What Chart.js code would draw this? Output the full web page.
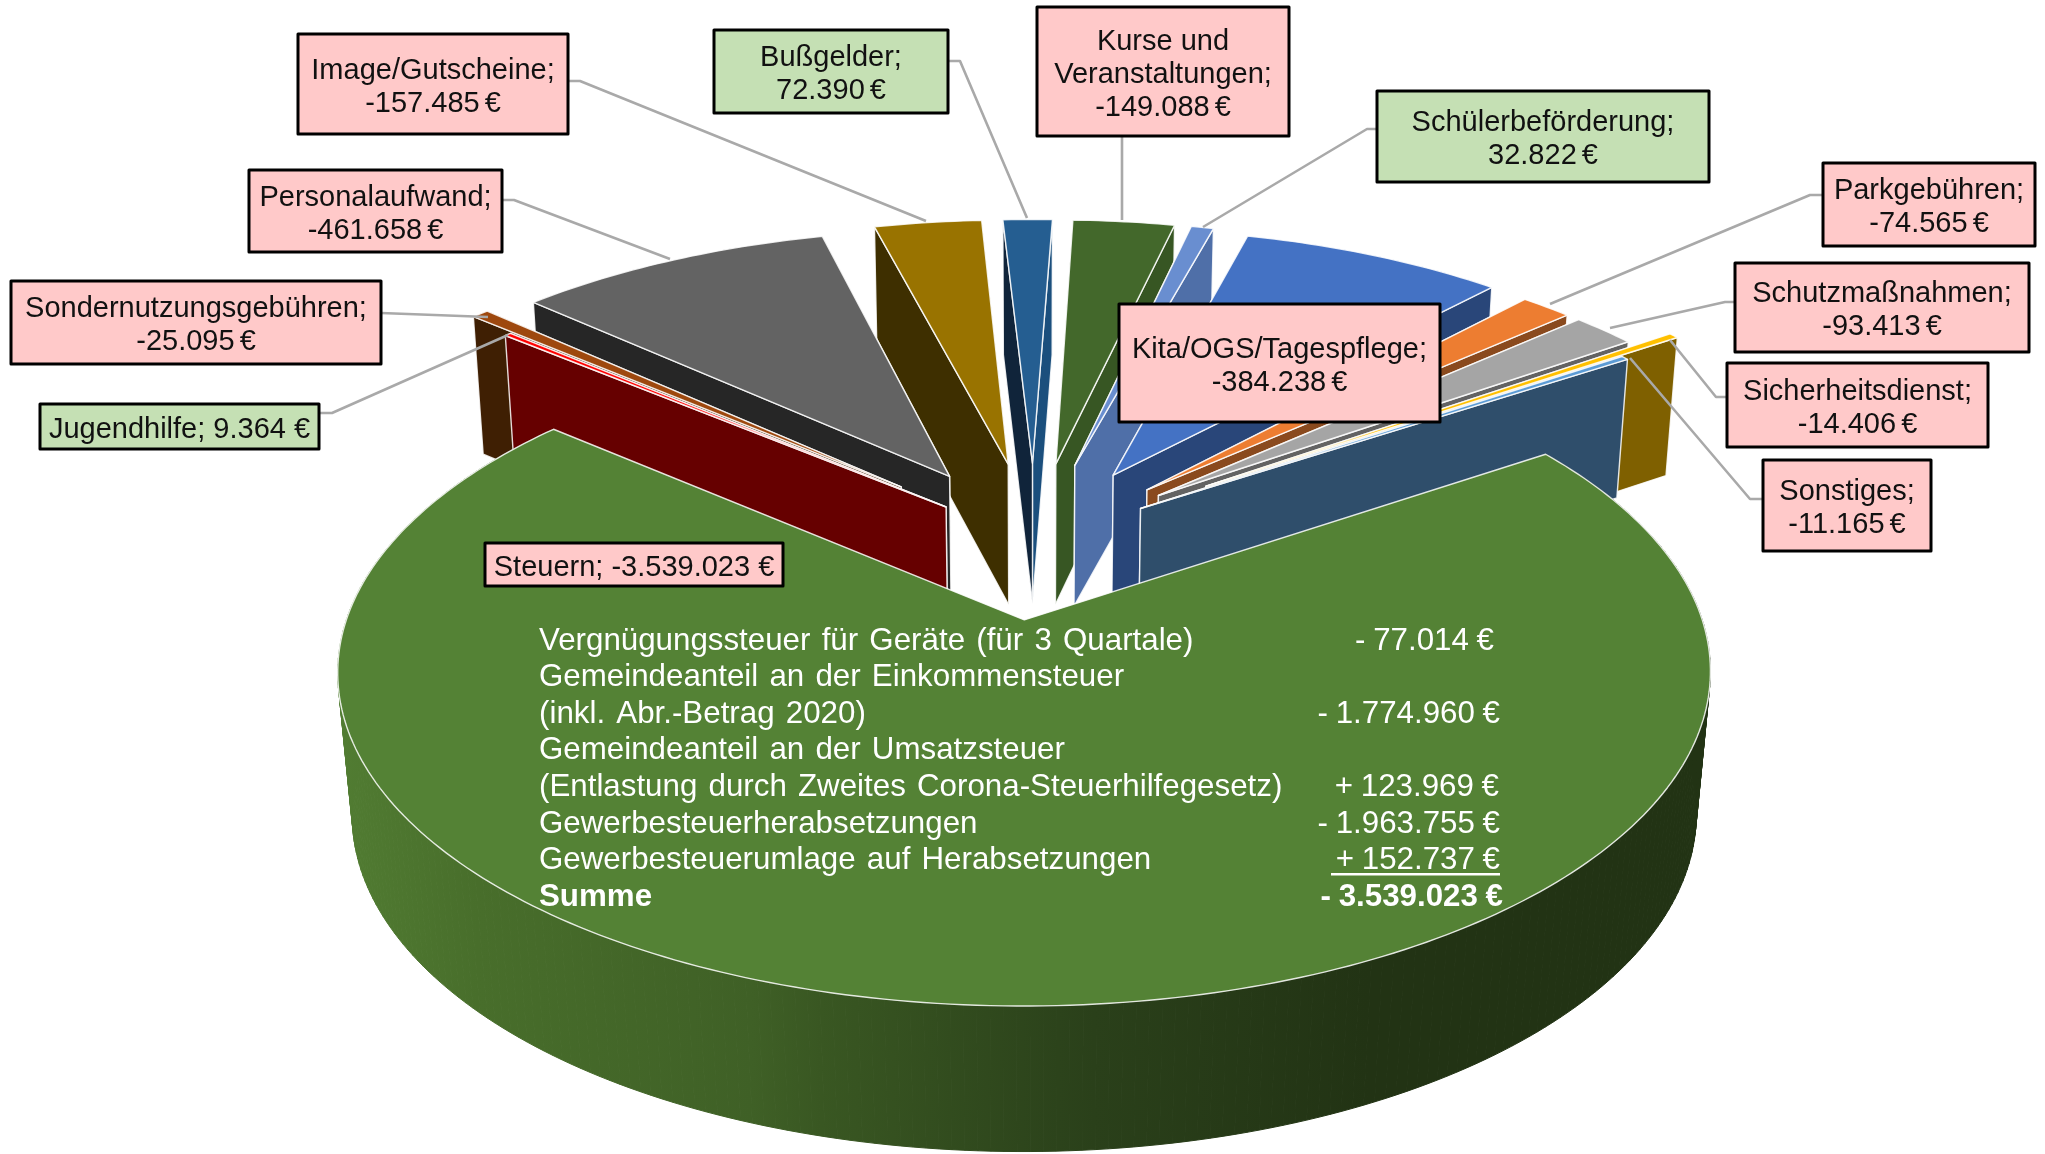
<!DOCTYPE html>
<html><head><meta charset="utf-8">
<style>html,body{margin:0;padding:0;background:#fff}canvas{display:block;filter:blur(0.5px)}</style>
<script src="https://cdn.jsdelivr.net/npm/chart.js@4"></script>
</head><body><canvas id="c" width="2045" height="1154"></canvas>
<script>
const categories=["Steuern","Jugendhilfe","Sondernutzungsgebühren","Personalaufwand","Image/Gutscheine","Bußgelder","Kurse und Veranstaltungen","Schülerbeförderung","Kita/OGS/Tagespflege","Parkgebühren","Schutzmaßnahmen","Sicherheitsdienst","Sonstiges"];
const values=[-3539023,9364,-25095,-461658,-157485,72390,-149088,32822,-384238,-74565,-93413,-14406,-11165];
const detailRows=[["Vergnügungssteuer für Geräte (für 3 Quartale)","- 77.014 €"],["Gemeindeanteil an der Einkommensteuer",""],["(inkl. Abr.-Betrag 2020)","- 1.774.960 €"],["Gemeindeanteil an der Umsatzsteuer",""],["(Entlastung durch Zweites Corona-Steuerhilfegesetz)","+ 123.969 €"],["Gewerbesteuerherabsetzungen","- 1.963.755 €"],["Gewerbesteuerumlage auf Herabsetzungen","+ 152.737 €"],["Summe","- 3.539.023 €"]];
const topColors=["#548235","#ff0000","#9e480e","#636363","#997300","#255e91","#43682b","#698ed0","#4472c4","#ed7d31","#a5a5a5","#ffc000","#5b9bd5"];
const startWall=["#375623","#660000","#3f1f03","#262626","#3e2f00","#10243a","#2a401a","#3f5a8a","#264478","#8a4a1e","#636363","#7f6000","#2f4e6b"];
const endWall=["#375623","#660000","#3f1f03","#262626","#3e2f00","#1b4f7d","#375623","#4f6fa8","#294679","#8a4a1e","#636363","#7f6000","#2f4e6b"];
const explode=[0.25,0.18,0.28,0.26,0.27,0.27,0.27,0.27,0.26,0.25,0.25,0.33,0.2];
const boxes=[[485,543,783,586],[40,404,319,449],[11,281,381,364],[249,170,502,252],[298,34,568,134],[714,30,948,113],[1037,7,1289,136],[1377,91,1709,182],[1119,304,1440,422],[1823,163,2035,246],[1735,263,2029,352],[1727,363,1988,447],[1763,460,1931,551]];
const leaders=[null,[[319,413],[332,413],[508,335]],[[381,313],[488,317]],[[502,200],[514,200],[670,259]],[[568,81],[580,81],[926,221]],[[948,61],[960,61],[1027,218]],[[1122,136],[1122,220]],[[1377,129],[1367,129],[1203,227]],null,[[1823,195],[1810,195],[1550,304]],[[1735,302],[1725,302],[1610,328]],[[1727,397],[1716,397],[1670,340]],[[1763,499],[1750,499],[1630,358]]];
const lineBreaks={6:["Kurse und","Veranstaltungen;"]};
const oneLine=[0,1];

const P={cx:1034,cy:541.6,A:652.6,B:302,C:142,k:0.15,kz:0.075,m:0.02};
function proj(u,v,z){const w=1-P.k*v+P.m*z;return [P.cx+P.A*u/w,P.cy+P.B*v/w+P.C*z/(1-P.kz*v)];}
function path(ctx,pts){ctx.beginPath();pts.forEach((p,i)=>i?ctx.lineTo(p[0],p[1]):ctx.moveTo(p[0],p[1]));}
function poly(ctx,pts,fill){path(ctx,pts);ctx.closePath();ctx.fillStyle=fill;ctx.fill();ctx.strokeStyle="rgba(255,255,255,.85)";ctx.lineWidth=1.4;ctx.lineJoin="round";ctx.stroke();}
function fmt(v){return v.toLocaleString("de-DE")+" €";}

const pie3d={id:"pie3d",
 beforeDatasetsDraw(chart){
  const ctx=chart.ctx,els=chart.getDatasetMeta(0).data;
  const order=els.map((e,i)=>i).sort((a,b)=>Math.sin((els[a].startAngle+els[a].endAngle)/2)-Math.sin((els[b].startAngle+els[b].endAngle)/2));
  order.forEach(i=>{
   const a0=els[i].startAngle,a1=els[i].endAngle,mid=(a0+a1)/2,e=explode[i];
   const du=Math.cos(mid)*e,dv=Math.sin(mid)*e,n=Math.max(2,Math.ceil((a1-a0)*60));
   const rim=[];for(let s=0;s<=n;s++){const t=a0+(a1-a0)*s/n;rim.push([du+Math.cos(t),dv+Math.sin(t)]);}
   const top=rim.map(r=>proj(r[0],r[1],0)),bot=rim.map(r=>proj(r[0],r[1],1));
   const at=proj(du,dv,0),ab=proj(du,dv,1);
   if(i===0){
    const g=ctx.createLinearGradient(341,0,1711,0);
    [[0,"#517c32"],[.1,"#486e2b"],[.3,"#3f6026"],[.35,"#395722"],[.55,"#2a401a"],[.75,"#223314"],[1,"#223314"]].forEach(s=>g.addColorStop(s[0],s[1]));
    ctx.fillStyle=g;ctx.strokeStyle=g;ctx.lineWidth=1;
    for(let s=0;s<n;s++){path(ctx,[top[s],top[s+1],bot[s+1],bot[s]]);ctx.closePath();ctx.fill();ctx.stroke();}
   }else{
    const sw=[at,top[0],bot[0],ab],ew=[at,top[n],bot[n],ab];
    if(top[0][1]>top[n][1]){poly(ctx,ew,endWall[i]);poly(ctx,sw,startWall[i]);}
    else{poly(ctx,sw,startWall[i]);poly(ctx,ew,endWall[i]);}
   }
   poly(ctx,[at].concat(top),topColors[i]);
  });
  return false;
 },
 afterDraw(chart){
  const ctx=chart.ctx;ctx.save();
  ctx.textBaseline="middle";
  ctx.fillStyle="#fff";
  detailRows.forEach((r,i)=>{
   const y=641+i*36.6,b=i===detailRows.length-1;
   ctx.font=(b?"bold ":"")+"31.3px 'Liberation Sans'";
   ctx.wordSpacing=b?"0px":"2.5px";
   ctx.textAlign="left";ctx.fillText(r[0],539,y);
   ctx.textAlign="right";ctx.wordSpacing="-1px";if(r[1])ctx.fillText(r[1],[1494,0,1500,0,1499,1500,1500,1503][i],y);
  });
  ctx.fillRect(1331,873,169,2.5);
  ctx.strokeStyle="#a9a9a9";ctx.lineWidth=2.6;
  leaders.forEach(l=>{if(!l)return;path(ctx,l);ctx.stroke();});
  ctx.textAlign="center";ctx.font="29px 'Liberation Sans'";
  boxes.forEach((b,i)=>{
   ctx.fillStyle=values[i]<0?"#ffc9c9":"#c5e0b4";
   ctx.fillRect(b[0],b[1],b[2]-b[0],b[3]-b[1]);
   ctx.strokeStyle="#000";ctx.lineWidth=3;ctx.strokeRect(b[0],b[1],b[2]-b[0],b[3]-b[1]);
   const val=fmt(values[i]);
   const one=oneLine.includes(i);
   const names=one?[categories[i]+"; "+val]:(lineBreaks[i]||[categories[i]+";"]);
   const lines=one?names:names.concat([val]);
   ctx.fillStyle="#111";
   const cx=(b[0]+b[2])/2,cy=(b[1]+b[3])/2+3;
   lines.forEach((t,j)=>{ctx.wordSpacing=(!one&&j===lines.length-1)?"-3px":"0px";ctx.fillText(t,cx,cy+(j-(lines.length-1)/2)*33);});
  });
  ctx.restore();
 }
};

new Chart(document.getElementById("c"),{
 type:"pie",
 data:{labels:categories,datasets:[{data:values.map(Math.abs),backgroundColor:topColors,borderWidth:0}]},
 options:{responsive:false,animation:false,rotation:56.5,plugins:{legend:{display:false},tooltip:{enabled:false}}},
 plugins:[pie3d]
});
</script></body></html>
